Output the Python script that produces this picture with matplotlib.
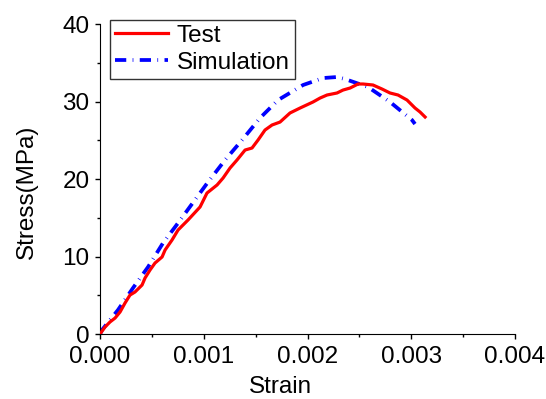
import matplotlib.pyplot as plt
from matplotlib.ticker import MultipleLocator

plt.rcParams['font.family'] = ['Liberation Sans', 'DejaVu Sans']

# test curve
test_strain = [0, 0.000048, 0.000096, 0.000145, 0.000193, 0.000241, 0.000289, 0.000337,
               0.000405, 0.000434, 0.000482, 0.00053, 0.000598, 0.000627, 0.000694,
               0.000752, 0.000848, 0.000964, 0.001031, 0.001128, 0.001186, 0.001253,
               0.00132, 0.001398, 0.001465, 0.001523, 0.00159, 0.001658, 0.001735,
               0.001831, 0.001928, 0.002053, 0.002121, 0.002188, 0.002284, 0.002342,
               0.00241, 0.002487, 0.002535, 0.002631, 0.002718, 0.002795, 0.002872,
               0.002959, 0.003036, 0.003084, 0.003133]
test_stress = [0, 0.90, 1.55, 2.06, 2.84, 4.00, 5.03, 5.42, 6.32, 7.23, 8.26, 9.16, 9.94,
               10.84, 12.13, 13.42, 14.71, 16.39, 18.19, 19.23, 20.13, 21.42, 22.45, 23.74,
               24.0, 25.03, 26.32, 26.97, 27.35, 28.52, 29.16, 29.94, 30.45, 30.84, 31.10,
               31.48, 31.74, 32.26, 32.26, 32.13, 31.61, 31.10, 30.84, 30.19, 29.16, 28.65,
               28.0]

# simulation curve
sim_strain = [0, 0.000019, 0.000173, 0.000318, 0.000463, 0.000607, 0.000752, 0.001041,
              0.001205, 0.001369, 0.001542, 0.001716, 0.001957, 0.00215, 0.002284,
              0.002361, 0.002583, 0.002795, 0.003007, 0.003036]
sim_stress = [0, 0.52, 3.10, 5.94, 8.65, 11.74, 14.32, 19.61, 22.45, 25.03, 27.87, 30.19,
              32.13, 33.03, 33.16, 32.90, 31.87, 29.94, 27.61, 27.1]

fig = plt.figure(figsize=(5.46, 3.99), dpi=100)
ax = fig.add_axes([0.1832, 0.1629, 0.7601, 0.7769])

ax.plot(test_strain, test_stress, color='red', lw=2.3, label='Test', zorder=3)
ax.plot(sim_strain, sim_stress, color='blue', lw=2.7, ls=(0, (3.0, 1.7, 0.2, 1.7)),
        label='Simulation', zorder=2)

ax.set_xlim(0, 0.004)
ax.set_ylim(0, 40)
ax.xaxis.set_major_locator(MultipleLocator(0.001))
ax.xaxis.set_minor_locator(MultipleLocator(0.0005))
ax.yaxis.set_major_locator(MultipleLocator(10))
ax.yaxis.set_minor_locator(MultipleLocator(5))
ax.xaxis.set_major_formatter(plt.FormatStrFormatter('%.3f'))

ax.spines['top'].set_visible(False)
ax.spines['right'].set_visible(False)
ax.tick_params(which='major', direction='out', length=3.6, width=1, labelsize=17.5, pad=4)
ax.tick_params(axis='x', which='major', pad=5)
ax.tick_params(which='minor', direction='out', length=2.4, width=1)

ax.set_xlabel('Strain', fontsize=17.5)
ax.set_ylabel('Stress(MPa)', fontsize=17.5)
ax.xaxis.set_label_coords(0.434, -0.135)
ax.yaxis.set_label_coords(-0.149, 0.46)

leg = ax.legend(loc='upper left', fontsize=17.5, frameon=True, fancybox=False,
                edgecolor='black', handlelength=2.2, borderpad=0.2, labelspacing=0.2,
                handletextpad=0.35, borderaxespad=0, bbox_to_anchor=(0.024, 1.013))
leg.get_frame().set_linewidth(1)

fig.savefig('out.png', dpi=100)
